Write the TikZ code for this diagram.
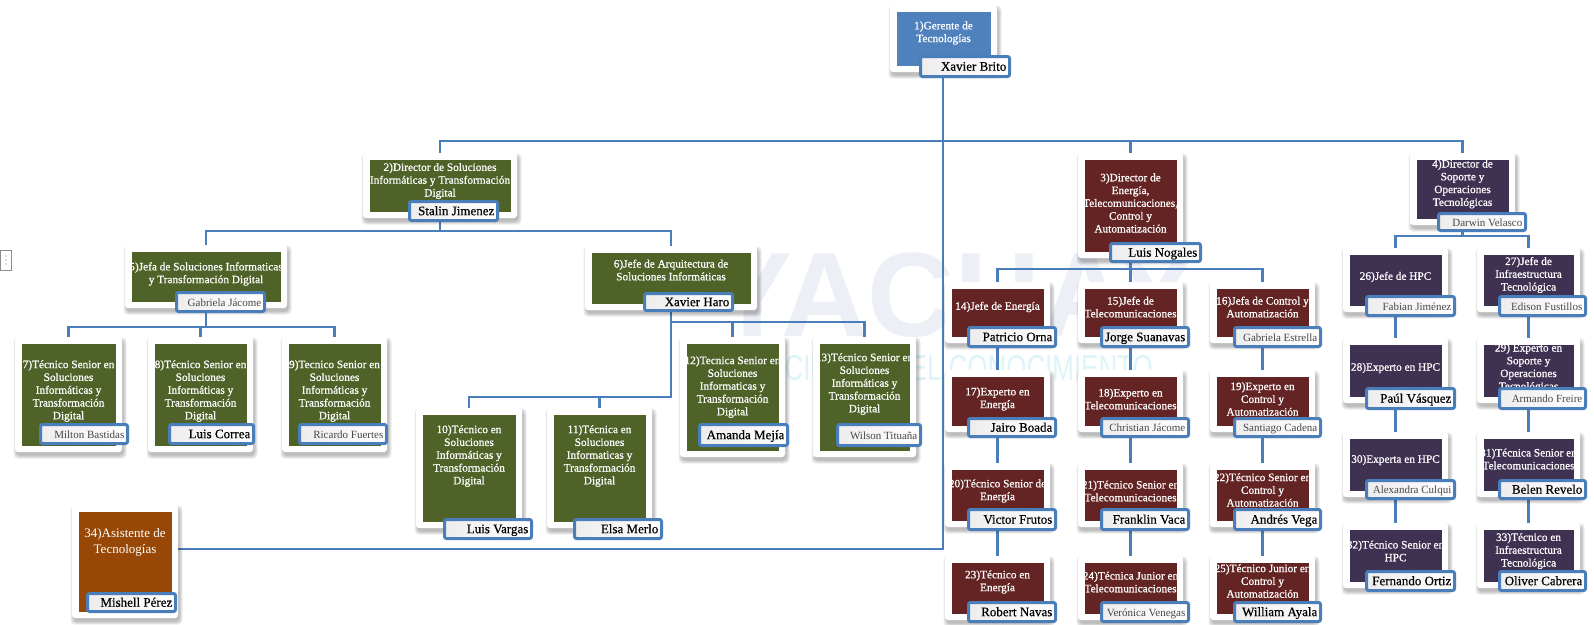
\documentclass[tikz,border=0pt]{standalone}
\usepackage{fontspec}
\setmainfont{Liberation Serif}
\newfontfamily\titlefont[FakeBold=0.7]{Liberation Serif}
\newfontfamily\namefont[FakeBold=0.5]{Liberation Serif}
\newfontfamily\wmfont{Liberation Sans}
\pgfdeclarelayer{bg}
\pgfsetlayers{bg,main}

\definecolor{linkblue}{HTML}{4A7EBB}
\definecolor{cblue}{HTML}{4F81BD}
\definecolor{cgreen}{HTML}{4F6228}
\definecolor{cmaroon}{HTML}{632423}
\definecolor{cpurple}{HTML}{3F3151}
\definecolor{cbrown}{HTML}{974806}
\definecolor{wmgrey}{HTML}{ECEFF6}
\definecolor{wmcyan}{HTML}{DDF4F8}

\newcommand\cardfont{\titlefont\fontsize{11.3}{12.8}\selectfont}

\tikzset{
  card/.style={fill=white, rounded corners=3pt, inner sep=0pt, outer sep=0pt},
  softshade/.style={fill=black, opacity=0.07, rounded corners=4pt},
  namebox/.style={draw=linkblue, line width=3pt, rounded corners=2pt,
    left color=black!7, right color=white, inner sep=0pt, outer sep=0pt},
  bigname/.style={font=\namefont\fontsize{13}{15}\selectfont, text=black, inner sep=0pt},
  smallname/.style={font=\fontsize{11}{13}\selectfont, text=black!72, inner sep=0pt},
  cardtitle/.style={font=\cardfont, text=white, align=center, inner sep=0pt},
  link/.style={draw=linkblue, line width=2.8pt},
}

% \card{id}{x0}{y0}{x1}{y1}{fill colour}{title centre y}{title}
\newcommand\card[8]{%
  \pgfmathsetmacro\cardw{#4-#2}\pgfmathsetmacro\cardh{#5-#3}%
  \foreach \s in {0,1,2,3}
    \fill[softshade] ({#2-\s+1.5},{#3-\s+3.5}) rectangle ({#4+\s+1.5},{#5+\s+3.5});
  \node[card, minimum width=\cardw pt, minimum height=\cardh pt] (c#1) at ({(#2+#4)/2},{(#3+#5)/2}) {};
  \fill[#6] ({#2+6.5},{#3+6.5}) rectangle ({#4-6.5},{#5-6.5});
  \begin{scope}
    \clip ({#2+6.5},{#3+6.5}) rectangle ({#4-6.5},{#5-6.5});
    \node[cardtitle] (h#1) at ({(#2+#4)/2},#7) {#8};
  \end{scope}
}

% \person{id}{x0}{y0}{x1}{y1}{style}{name}
\newcommand\person[7]{%
  \pgfmathsetmacro\namew{#4-#2-3}\pgfmathsetmacro\nameh{#5-#3-3}%
  \node[namebox, minimum width=\namew pt, minimum height=\nameh pt] (n#1) at ({(#2+#4)/2},{(#3+#5)/2}) {};
  \node[#6, anchor=base east] (t#1) at ([xshift=-3pt, yshift=-4.2pt]n#1.east) {#7};
}

\begin{document}
\begin{tikzpicture}[x=1pt,y=-1pt]
\useasboundingbox (0,0) rectangle (1594,624);

\begin{pgfonlayer}{bg}
  \fill[white] (0,0) rectangle (1594,624);
  % faint institutional watermark
  \node[anchor=base west, text=wmgrey, font=\wmfont\bfseries\fontsize{120}{120}\selectfont, inner sep=0pt]
    (wm1) at (712,336) {YACHAY};
  \node[anchor=base east, text=wmcyan, font=\wmfont\fontsize{36}{36}\selectfont, inner sep=0pt]
    (wm2) at (1153,380) {\scalebox{0.72}[1]{CIUDAD DEL CONOCIMIENTO}};
  % small handle at the left border
  \draw[black!45, line width=0.4pt] (0.5,250) rectangle (11,270);
  \fill[black!55] (6,256) circle (0.7) (6,260) circle (0.7) (6,264) circle (0.7);
\end{pgfonlayer}

% ---------- top level ----------
\card{1}{890}{5}{997}{72}{cblue}{33}{1)Gerente de\\Tecnologías}
\person{1}{919}{55}{1011}{78}{bigname}{Xavier Brito}

% ---------- directors ----------
\card{2}{363}{153}{517}{218}{cgreen}{181}{2)Director de Soluciones\\Informáticas y Transformación\\Digital}
\person{2}{408}{200}{499}{222}{bigname}{Stalin Jimenez}

\card{3}{1078}{153}{1183}{258}{cmaroon}{203}{3)Director de\\Energía,\\Telecomunicaciones,\\Control y\\Automatización}
\person{3}{1109}{242}{1202}{263}{bigname}{Luis Nogales}

\card{4}{1410}{153}{1515}{225}{cpurple}{184}{4)Director de\\Soporte y\\Operaciones\\Tecnológicas}
\person{4}{1437}{212}{1527}{232}{smallname}{Darwin Velasco}

% ---------- software branch ----------
\card{5}{125}{245}{287}{308}{cgreen}{274}{5)Jefa de Soluciones Informaticas\\y Transformación Digital}
\person{5}{175}{291}{266}{313}{smallname}{Gabriela Jácome}

\card{6}{585}{246}{757}{310}{cgreen}{270}{6)Jefe de Arquitectura de\\Soluciones Informáticas}
\person{6}{643}{292}{734}{312}{bigname}{Xavier Haro}

\card{7}{15}{337}{122}{452}{cgreen}{391}{7)Técnico Senior en\\Soluciones\\Informáticas y\\Transformación\\Digital}
\person{7}{39}{423}{129}{445}{smallname}{Milton Bastidas}

\card{8}{148}{337}{253}{452}{cgreen}{391}{8)Técnico Senior en\\Soluciones\\Informáticas y\\Transformación\\Digital}
\person{8}{168}{423}{255}{445}{bigname}{Luis Correa}

\card{9}{282}{337}{387}{452}{cgreen}{391}{9)Tecnico Senior en\\Soluciones\\Informáticas y\\Transformación\\Digital}
\person{9}{298}{423}{388}{445}{smallname}{Ricardo Fuertes}

\card{10}{416}{408}{522}{528}{cgreen}{456}{10)Técnico en\\Soluciones\\Informáticas y\\Transformación\\Digital}
\person{10}{443}{518}{533}{540}{bigname}{Luis Vargas}

\card{11}{547}{408}{652}{528}{cgreen}{456}{11)Técnica en\\Soluciones\\Informaticas y\\Transformación\\Digital}
\person{11}{573}{518}{663}{540}{bigname}{Elsa Merlo}

\card{12}{680}{337}{785}{457}{cgreen}{387}{12)Tecnica Senior en\\Soluciones\\Informaticas y\\Transformación\\Digital}
\person{12}{698}{423}{789}{447}{bigname}{Amanda Mejía}

\card{13}{813}{337}{916}{457}{cgreen}{384}{13)Técnico Senior en\\Soluciones\\Informáticas y\\Transformación\\Digital}
\person{13}{836}{423}{922}{447}{smallname}{Wilson Tituaña}

\renewcommand\cardfont{\fontsize{13}{16}\selectfont}
\card{34}{72}{505}{178}{618}{cbrown}{542}{34)Asistente de\\Tecnologías}
\renewcommand\cardfont{\titlefont\fontsize{11.3}{12.8}\selectfont}
\person{34}{86}{592}{177}{613}{bigname}{Mishell Pérez}

% ---------- energy / telecom / control branch ----------
\card{14}{945}{282}{1050}{343}{cmaroon}{307}{14)Jefe de Energía}
\person{14}{967}{326}{1057}{348}{bigname}{Patricio Orna}
\card{15}{1078}{282}{1183}{343}{cmaroon}{307}{15)Jefe de\\Telecomunicaciones}
\person{15}{1100}{326}{1190}{348}{bigname}{Jorge Suanavas}
\card{16}{1210}{282}{1315}{343}{cmaroon}{307}{16)Jefa de Control y\\Automatización}
\person{16}{1233}{326}{1322}{348}{smallname}{Gabriela Estrella}

\card{17}{945}{370}{1050}{432}{cmaroon}{399}{17)Experto en\\Energía}
\person{17}{967}{417}{1057}{438}{bigname}{Jairo Boada}
\card{18}{1078}{370}{1183}{432}{cmaroon}{399}{18)Experto en\\Telecomunicaciones}
\person{18}{1100}{417}{1190}{438}{smallname}{Christian Jácome}
\card{19}{1210}{370}{1315}{432}{cmaroon}{399}{19)Experto en\\Control y\\Automatización}
\person{19}{1233}{417}{1322}{438}{smallname}{Santiago Cadena}

\card{20}{945}{463}{1050}{527}{cmaroon}{491}{20)Técnico Senior de\\Energía}
\person{20}{967}{508}{1057}{531}{bigname}{Victor Frutos}
\card{21}{1078}{463}{1183}{527}{cmaroon}{491}{21)Técnico Senior en\\Telecomunicaciones}
\person{21}{1100}{508}{1190}{531}{bigname}{Franklin Vaca}
\card{22}{1210}{463}{1315}{527}{cmaroon}{490}{22)Técnico Senior en\\Control y\\Automatización}
\person{22}{1233}{508}{1322}{531}{bigname}{Andrés Vega}

\card{23}{945}{556}{1050}{620}{cmaroon}{582}{23)Técnico en\\Energía}
\person{23}{967}{601}{1057}{623}{bigname}{Robert Navas}
\card{24}{1078}{556}{1183}{620}{cmaroon}{582}{24)Técnica Junior en\\Telecomunicaciones}
\person{24}{1100}{601}{1190}{623}{smallname}{Verónica Venegas}
\card{25}{1210}{556}{1315}{620}{cmaroon}{581}{25)Técnico Junior en\\Control y\\Automatización}
\person{25}{1233}{601}{1322}{623}{bigname}{William Ayala}

% ---------- support / operations branch ----------
\card{26}{1343}{248}{1448}{312}{cpurple}{277}{26)Jefe de HPC}
\person{26}{1365}{295}{1456}{317}{smallname}{Fabian Jiménez}
\card{27}{1477}{248}{1580}{312}{cpurple}{275}{27)Jefe de\\Infraestructura\\Tecnológica}
\person{27}{1498}{295}{1587}{317}{smallname}{Edison Fustillos}

\card{28}{1343}{338}{1448}{403}{cpurple}{368}{28)Experto en HPC}
\person{28}{1365}{387}{1456}{410}{bigname}{Paúl Vásquez}
\card{29}{1477}{338}{1580}{403}{cpurple}{368}{29) Experto en\\Soporte y\\Operaciones\\Tecnológicas}
\person{29}{1498}{387}{1587}{410}{smallname}{Armando Freire}

\card{30}{1343}{432}{1448}{497}{cpurple}{460}{30)Experta en HPC}
\person{30}{1365}{479}{1456}{500}{smallname}{Alexandra Culqui}
\card{31}{1477}{432}{1580}{497}{cpurple}{459}{31)Técnica Senior en\\Telecomunicaciones}
\person{31}{1498}{479}{1587}{500}{bigname}{Belen Revelo}

\card{32}{1343}{523}{1448}{588}{cpurple}{551}{32)Técnico Senior en\\HPC}
\person{32}{1365}{570}{1456}{592}{bigname}{Fernando Ortiz}
\card{33}{1477}{523}{1580}{588}{cpurple}{551}{33)Técnico en\\Infraestructura\\Tecnológica}
\person{33}{1498}{570}{1587}{592}{bigname}{Oliver Cabrera}

% ---------- connectors ----------
\begin{pgfonlayer}{bg}
  \coordinate (bus1) at (0,141);
  \coordinate (bus2) at (0,231);
  \coordinate (bus3) at (0,269);
  \coordinate (bus4) at (0,236);
  \coordinate (bus5) at (0,327);
  \coordinate (bus6a) at (0,322);
  \coordinate (bus6b) at (0,397);
  \coordinate (trunk) at (943,549);

  % manager trunk down to the assistant
  \draw[link] (n1.south -| trunk) -- (trunk) -- (trunk -| c34.east);
  % directors
  \draw[link] (c2.north) -- (c2.north |- bus1) -- (c4.north |- bus1) -- (c4.north);
  \draw[link] (c3.north |- bus1) -- (c3.north);

  % software branch
  \draw[link] (c2.south |- n2.south) -- (c2.south |- bus2);
  \draw[link] (c5.north) -- (c5.north |- bus2) -- (c6.north |- bus2) -- (c6.north);
  \draw[link] (c5.south |- n5.south) -- (c5.south |- bus5);
  \draw[link] (c7.north) -- (c7.north |- bus5) -- (c9.north |- bus5) -- (c9.north);
  \draw[link] (c8.north |- bus5) -- (c8.north);
  \draw[link] (c6.south |- n6.south) -- (c6.south |- bus6b) -- (c10.north |- bus6b) -- (c10.north);
  \draw[link] (c11.north |- bus6b) -- (c11.north);
  \draw[link] (c6.south |- bus6a) -- (c13.north |- bus6a) -- (c13.north);
  \draw[link] (c12.north |- bus6a) -- (c12.north);

  % energy branch
  \draw[link] (c3.south |- n3.south) -- (c3.south |- bus3);
  \draw[link] (c14.north) -- (c14.north |- bus3) -- (c16.north |- bus3) -- (c16.north);
  \draw[link] (c15.north |- bus3) -- (c15.north);

  % support branch
  \draw[link] (c4.south |- n4.south) -- (c4.south |- bus4);
  \draw[link] (c26.north) -- (c26.north |- bus4) -- (c27.north |- bus4) -- (c27.north);

  % columns
  \foreach \a/\b in {14/17,17/20,20/23,15/18,18/21,21/24,16/19,19/22,22/25,
                     26/28,28/30,30/32,27/29,29/31,31/33}
    \draw[link] (c\a.south |- n\a.south) -- (c\b.north);
\end{pgfonlayer}
\end{tikzpicture}
\end{document}
